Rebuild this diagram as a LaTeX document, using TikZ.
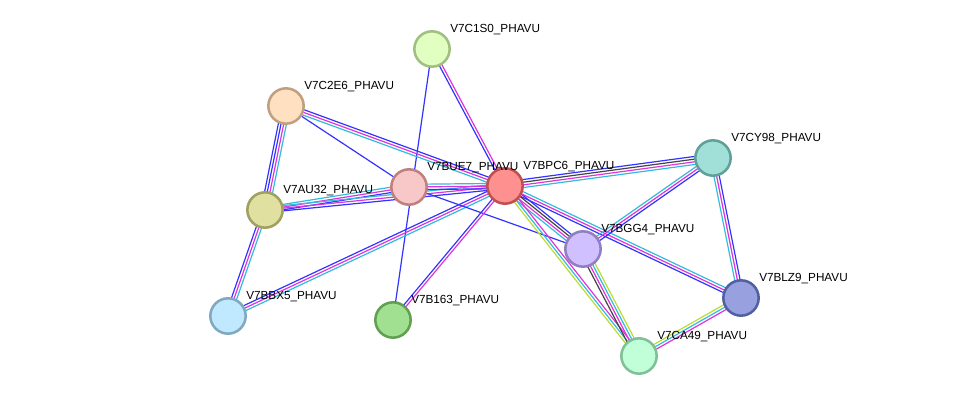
\documentclass[tikz,border=0pt]{standalone}
\usepackage{fontspec}
\setmainfont{Liberation Sans}
\usetikzlibrary{calc}
\pgfdeclarelayer{bg}
\pgfsetlayers{bg,main}
\definecolor{sblue}{RGB}{51,51,255}
\definecolor{smag}{RGB}{221,51,221}
\definecolor{scyan}{RGB}{51,187,221}
\definecolor{sgray}{RGB}{68,68,68}
\definecolor{sylw}{RGB}{187,221,51}
% node fill / border
\definecolor{fC1S0}{RGB}{224,255,192}\definecolor{dC1S0}{RGB}{160,192,128}
\definecolor{fC2E6}{RGB}{255,224,192}\definecolor{dC2E6}{RGB}{192,160,128}
\definecolor{fBUE7}{RGB}{248,200,200}\definecolor{dBUE7}{RGB}{192,128,128}
\definecolor{fBPC6}{RGB}{255,144,144}\definecolor{dBPC6}{RGB}{192,80,80}
\definecolor{fCY98}{RGB}{160,224,216}\definecolor{dCY98}{RGB}{96,160,152}
\definecolor{fAU32}{RGB}{224,224,160}\definecolor{dAU32}{RGB}{160,160,96}
\definecolor{fBGG4}{RGB}{208,192,255}\definecolor{dBGG4}{RGB}{144,128,192}
\definecolor{fBLZ9}{RGB}{152,160,224}\definecolor{dBLZ9}{RGB}{80,96,160}
\definecolor{fBBX5}{RGB}{192,232,255}\definecolor{dBBX5}{RGB}{128,168,192}
\definecolor{fB163}{RGB}{160,224,144}\definecolor{dB163}{RGB}{96,160,80}
\definecolor{fCA49}{RGB}{192,255,216}\definecolor{dCA49}{RGB}{128,192,152}
\tikzset{
  prot/.style={circle,draw=d#1,fill=f#1,line width=1.9pt,minimum size=26.5pt,inner sep=0pt},
  lab/.style={anchor=west,inner sep=0pt,font=\fontsize{8.8}{10}\selectfont}
}
% one line per evidence channel, side by side
\newcommand{\bundle}[3]{\foreach \col/\off in {#3}
  \draw[\col,line width=0.9pt] ($(#1.center)!\off!90:(#2.center)$) -- ($(#2.center)!\off!-90:(#1.center)$);}
\begin{document}
\begin{tikzpicture}[x=0.75pt,y=-0.75pt]
\useasboundingbox (0,0) rectangle (976,402);
\node[prot=C1S0] (C1S0) at (432,49) {};
\node[prot=C2E6] (C2E6) at (286,106) {};
\node[prot=BUE7] (BUE7) at (409,187) {};
\node[prot=BPC6] (BPC6) at (505,186) {};
\node[prot=CY98] (CY98) at (713,158) {};
\node[prot=AU32] (AU32) at (265,210) {};
\node[prot=BGG4] (BGG4) at (583,249) {};
\node[prot=BLZ9] (BLZ9) at (741,298) {};
\node[prot=BBX5] (BBX5) at (228,316) {};
\node[prot=B163] (B163) at (393,320) {};
\node[prot=CA49] (CA49) at (639,356) {};
% labels
\node[lab] (C1S0l) at ($(C1S0)+(18,-19.5)$) {V7C1S0\_PHAVU};
\node[lab] (C2E6l) at ($(C2E6)+(18,-19.5)$) {V7C2E6\_PHAVU};
\node[lab] (BUE7l) at ($(BUE7)+(18,-19.5)$) {V7BUE7\_PHAVU};
\node[lab] (BPC6l) at ($(BPC6)+(18,-19.5)$) {V7BPC6\_PHAVU};
\node[lab] (CY98l) at ($(CY98)+(18,-19.5)$) {V7CY98\_PHAVU};
\node[lab] (AU32l) at ($(AU32)+(18,-19.5)$) {V7AU32\_PHAVU};
\node[lab] (BGG4l) at ($(BGG4)+(18,-19.5)$) {V7BGG4\_PHAVU};
\node[lab] (BLZ9l) at ($(BLZ9)+(18,-19.5)$) {V7BLZ9\_PHAVU};
\node[lab] (BBX5l) at ($(BBX5)+(18,-19.5)$) {V7BBX5\_PHAVU};
\node[lab] (B163l) at ($(B163)+(18,-19.5)$) {V7B163\_PHAVU};
\node[lab] (CA49l) at ($(CA49)+(18,-19.5)$) {V7CA49\_PHAVU};
\begin{pgfonlayer}{bg}
\bundle{C1S0}{BPC6}{sblue/-1pt,smag/1pt}
\bundle{C1S0}{B163}{sblue/0pt}
\bundle{C2E6}{AU32}{sblue/-3pt,sblue/-1pt,smag/1pt,scyan/3pt}
\bundle{C2E6}{BUE7}{sblue/0pt}
\bundle{C2E6}{BPC6}{sblue/2pt,smag/0pt,scyan/-2pt}
\bundle{AU32}{BUE7}{sblue/-2pt,smag/0pt,scyan/2pt}
\bundle{AU32}{BPC6}{sblue/-2pt,smag/0pt,scyan/2pt}
\bundle{AU32}{BBX5}{sblue/-2pt,smag/0pt,scyan/2pt}
\bundle{BBX5}{BPC6}{sblue/2pt,smag/0pt,scyan/-2pt}
\bundle{BUE7}{BPC6}{sblue/-2pt,smag/0pt,scyan/2pt}
\bundle{BUE7}{BGG4}{sblue/0pt}
\bundle{B163}{BPC6}{sblue/1pt,smag/-1pt}
\bundle{BPC6}{CY98}{sblue/3pt,sgray/1pt,smag/-1pt,scyan/-3pt}
\bundle{BPC6}{BGG4}{sblue/3pt,sgray/1pt,smag/-1pt,scyan/-3pt}
\bundle{BPC6}{BLZ9}{sblue/-2pt,smag/0pt,scyan/2pt}
\bundle{BPC6}{CA49}{sylw/-2pt,scyan/0pt,smag/2pt}
\bundle{CY98}{BGG4}{sblue/2pt,smag/0pt,scyan/-2pt}
\bundle{CY98}{BLZ9}{sblue/2pt,smag/0pt,scyan/-2pt}
\bundle{BGG4}{CA49}{sylw/3pt,scyan/1pt,smag/-1pt,sgray/-3pt}
\bundle{BLZ9}{CA49}{sylw/-2pt,scyan/0pt,smag/2pt}
\end{pgfonlayer}
\end{tikzpicture}
\end{document}
